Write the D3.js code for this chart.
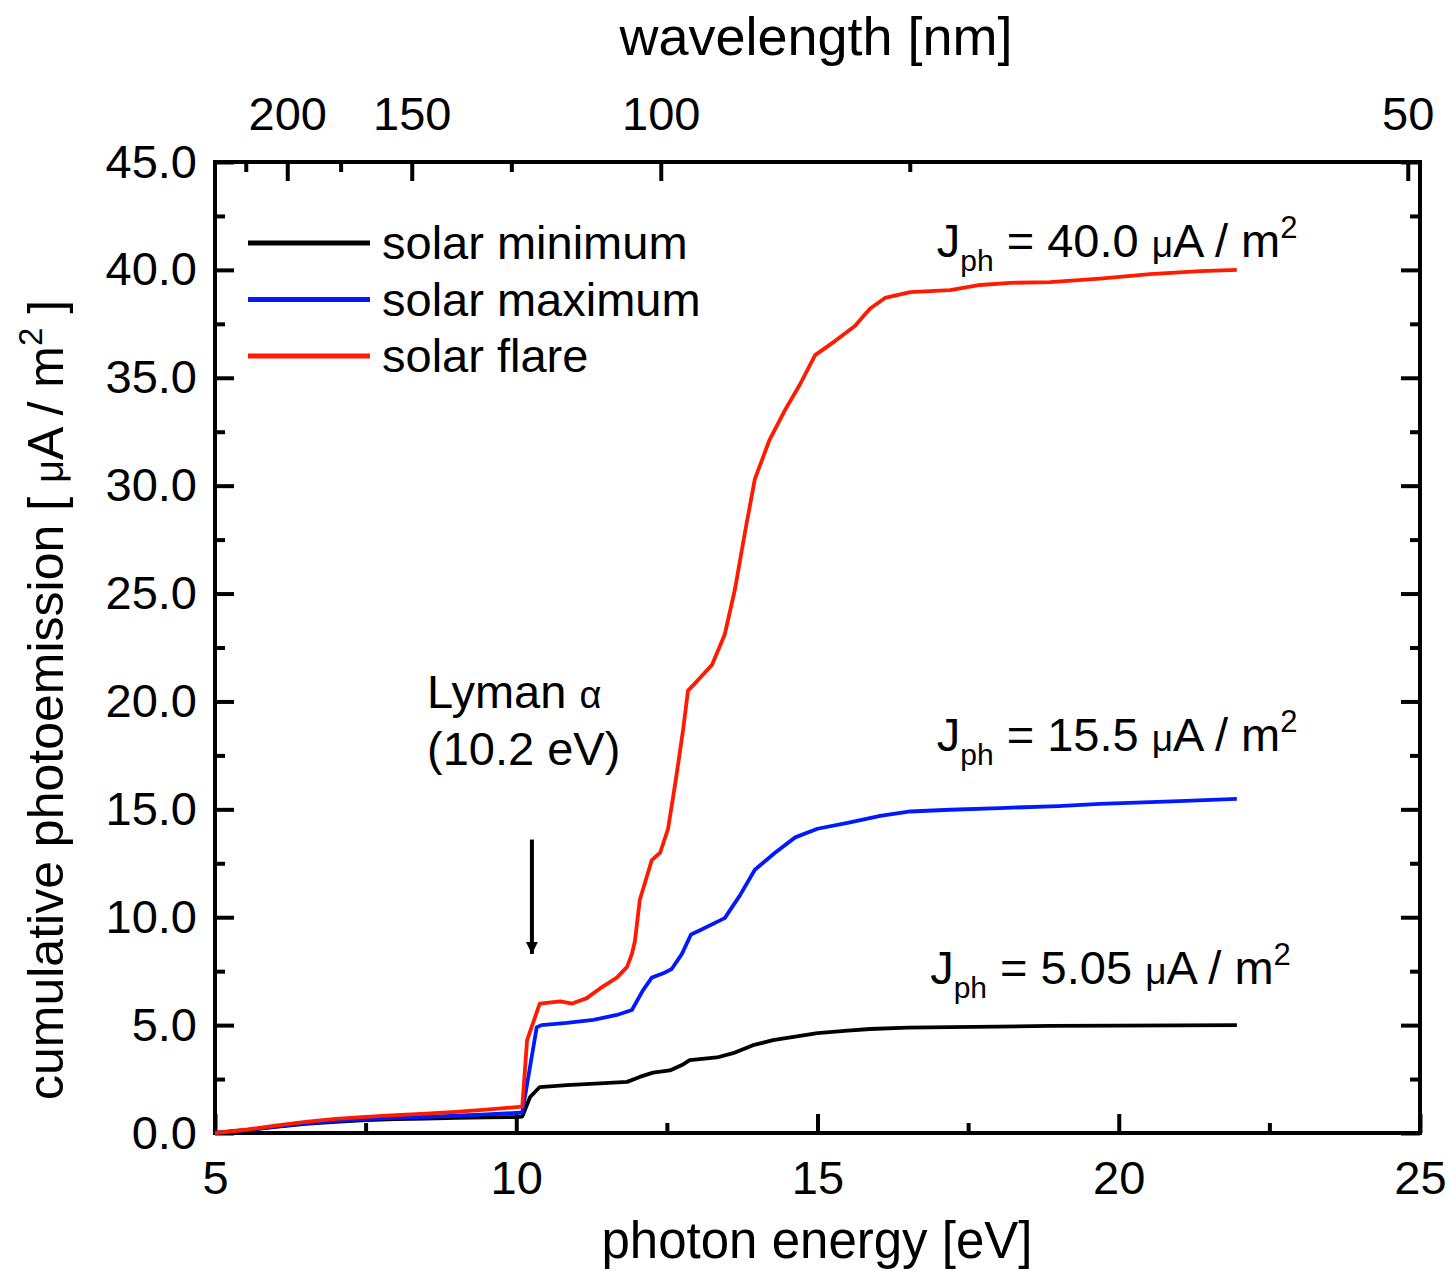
<!DOCTYPE html>
<head>
  <meta charset="utf-8">
  <title>Cumulative photoemission</title>
  <script src="https://cdn.jsdelivr.net/npm/d3@7"></script>
  <style>
    body { margin: 0; background: #fff; }
    text { font-family: "Liberation Sans", Arial, sans-serif; fill: #000; }
  </style>
</head>
<body>
<div id="chart"></div>
<script>
// photon energy [eV] and cumulative photoemission [uA/m2]
var minE  = [5, 5.5, 6, 6.5, 7, 7.5, 8, 8.5, 9, 9.5, 10, 10.1, 10.23, 10.39, 10.84, 11.39, 11.84, 12.05, 12.27, 12.55, 12.75, 12.88, 13.33, 13.6, 13.93, 14.26, 14.71, 15, 15.5, 15.87, 16.5, 17.2, 18, 18.86, 20, 21, 21.96];
var minJ  = [0, 0.12, 0.28, 0.42, 0.52, 0.6, 0.64, 0.67, 0.7, 0.72, 0.74, 0.76, 1.67, 2.13, 2.22, 2.3, 2.37, 2.6, 2.8, 2.9, 3.15, 3.38, 3.5, 3.7, 4.07, 4.3, 4.5, 4.63, 4.74, 4.82, 4.88, 4.91, 4.93, 4.96, 4.98, 4.99, 5.0];

var maxE  = [5, 5.5, 6, 6.5, 7, 7.5, 8, 8.5, 9, 9.5, 10, 10.1, 10.34, 10.42, 10.84, 11.28, 11.67, 11.92, 12.1, 12.25, 12.44, 12.58, 12.75, 12.9, 13.05, 13.46, 13.71, 13.96, 14.3, 14.63, 15, 15.54, 16.04, 16.54, 17.2, 18.03, 19, 19.69, 21, 21.96];
var maxJ  = [0, 0.13, 0.3, 0.45, 0.56, 0.64, 0.7, 0.75, 0.8, 0.86, 0.93, 0.95, 4.9, 5.0, 5.1, 5.24, 5.47, 5.7, 6.6, 7.2, 7.4, 7.6, 8.3, 9.2, 9.4, 9.96, 11.0, 12.2, 13.0, 13.7, 14.1, 14.4, 14.7, 14.9, 14.98, 15.06, 15.15, 15.25, 15.38, 15.48];

var flareE = [5, 5.5, 6, 6.5, 7, 7.5, 8, 8.5, 9, 9.5, 10, 10.1, 10.18, 10.39, 10.73, 10.93, 11.17, 11.39, 11.67, 11.84, 11.92, 11.97, 12.05, 12.25, 12.39, 12.52, 12.65, 12.77, 12.85, 12.97, 13.25, 13.46, 13.63, 13.8, 13.96, 14.2, 14.46, 14.71, 14.96, 15.29, 15.62, 15.87, 16.12, 16.54, 17.2, 17.7, 18.2, 18.86, 19.69, 20.52, 21.35, 21.96];
var flareJ = [0, 0.15, 0.34, 0.52, 0.65, 0.75, 0.83, 0.9, 0.98, 1.08, 1.2, 1.22, 4.3, 6.0, 6.1, 6.0, 6.25, 6.7, 7.2, 7.7, 8.3, 8.9, 10.8, 12.65, 13.0, 14.1, 16.4, 18.7, 20.5, 20.85, 21.7, 23.1, 25.2, 27.9, 30.3, 32.1, 33.5, 34.7, 36.05, 36.7, 37.4, 38.2, 38.7, 38.97, 39.06, 39.3, 39.4, 39.43, 39.6, 39.8, 39.94, 40.0];

var seriesNames  = ["solar minimum", "solar maximum", "solar flare"];
var seriesColors = ["#000000", "#0019ff", "#ff1a00"];
var totals = ["40.0", "15.5", "5.05"];

var yTicks = [0, 5, 10, 15, 20, 25, 30, 35, 40, 45];
var yMinor = [2.5, 7.5, 12.5, 17.5, 22.5, 27.5, 32.5, 37.5, 42.5];
var xTicks = [5, 10, 15, 20, 25];
var xMinor = [7.5, 12.5, 17.5, 22.5];
var nmTicks = [200, 150, 100, 50];
var nmMinor = [225, 175, 125, 75];
var lymanAlpha = 10.2;

var W = 1449, H = 1271;
var svg = d3.select("#chart").append("svg")
  .attr("width", W).attr("height", H);

var x = d3.scaleLinear().domain([5, 25]).range([215, 1420]);
var y = d3.scaleLinear().domain([0, 45]).range([1133, 162]);
// wavelength -> energy: E = hc / lambda
var nmToEV = function(nm) { return 1239.84 / nm; };

var FS = 47;

function styleAxis(g) {
  g.select(".domain").remove();
  g.selectAll("line").attr("stroke", "#000").attr("stroke-width", 4);
  g.selectAll("text").attr("font-size", FS).attr("fill", "#000")
    .attr("font-family", '"Liberation Sans", Arial, sans-serif');
}

// bottom axis
svg.append("g").attr("transform", "translate(0,1133)")
  .call(d3.axisBottom(x).tickValues(xTicks).tickSize(-19).tickPadding(28).tickFormat(d3.format("d")))
  .call(styleAxis);
svg.append("g").attr("transform", "translate(0,1133)")
  .call(d3.axisBottom(x).tickValues(xMinor).tickSize(-10).tickFormat(""))
  .call(styleAxis);

// left axis
svg.append("g").attr("transform", "translate(215,0)")
  .call(d3.axisLeft(y).tickValues(yTicks).tickSize(-19).tickPadding(18).tickFormat(d3.format(".1f")))
  .call(styleAxis);
svg.append("g").attr("transform", "translate(215,0)")
  .call(d3.axisLeft(y).tickValues(yMinor).tickSize(-10).tickFormat(""))
  .call(styleAxis);

// right axis
svg.append("g").attr("transform", "translate(1420,0)")
  .call(d3.axisRight(y).tickValues(yTicks).tickSize(-19).tickFormat(""))
  .call(styleAxis);
svg.append("g").attr("transform", "translate(1420,0)")
  .call(d3.axisRight(y).tickValues(yMinor).tickSize(-10).tickFormat(""))
  .call(styleAxis);

// top axis: wavelength, placed on the energy scale
svg.append("g").attr("transform", "translate(0,162)")
  .call(d3.axisTop(x).tickValues(nmTicks.map(nmToEV)).tickSize(-19).tickPadding(32)
    .tickFormat(function(e) { return d3.format("d")(Math.round(1239.84 / e)); }))
  .call(styleAxis);
svg.append("g").attr("transform", "translate(0,162)")
  .call(d3.axisTop(x).tickValues(nmMinor.map(nmToEV)).tickSize(-10).tickFormat(""))
  .call(styleAxis);

// frame
svg.append("rect")
  .attr("x", 215).attr("y", 162)
  .attr("width", 1420 - 215).attr("height", 1133 - 162)
  .attr("fill", "none").attr("stroke", "#000").attr("stroke-width", 4);

// curves
var line = d3.line().x(function(d) { return x(d[0]); }).y(function(d) { return y(d[1]); });
var series = [d3.zip(minE, minJ), d3.zip(maxE, maxJ), d3.zip(flareE, flareJ)];
svg.append("g").selectAll("path")
  .data(series)
  .enter().append("path")
    .attr("d", line)
    .attr("fill", "none")
    .attr("stroke", function(d, i) { return seriesColors[i]; })
    .attr("stroke-width", 3.8)
    .attr("stroke-linejoin", "round");

// legend
var leg = svg.append("g");
seriesNames.forEach(function(name, i) {
  var ly = 243 + i * 56.5;
  leg.append("line").attr("x1", 248).attr("x2", 370).attr("y1", ly).attr("y2", ly)
    .attr("stroke", seriesColors[i]).attr("stroke-width", 5);
  leg.append("text").attr("x", 382).attr("y", ly + 16).attr("font-size", FS).text(name);
});

// J_ph labels
function jLabel(xp, yp, val) {
  var t = svg.append("text").attr("x", xp).attr("y", yp).attr("font-size", 47);
  t.append("tspan").text("J");
  t.append("tspan").attr("font-size", 30).attr("dy", 14).text("ph");
  t.append("tspan").attr("dy", -14).text(" = " + val + " ");
  t.append("tspan").attr("font-size", 37).text("\u03bc");
  t.append("tspan").text("A / m");
  t.append("tspan").attr("font-size", 31).attr("dy", -19).text("2");
}
jLabel(x(16.98), y(40.0) - 13, totals[0]);
jLabel(x(16.98), y(15.5) - 48, totals[1]);
jLabel(x(16.87), y(5.05) - 40, totals[2]);

// Lyman alpha annotation
var lt = svg.append("text").attr("x", 427).attr("y", 708).attr("font-size", FS);
lt.append("tspan").text("Lyman ");
lt.append("tspan").attr("font-size", 38).text("\u03b1");
svg.append("text").attr("x", 427).attr("y", 765).attr("font-size", FS).text("(" + lymanAlpha + " eV)");

svg.append("defs").append("marker")
  .attr("id", "arrow").attr("viewBox", "0 0 10 10")
  .attr("refX", 10).attr("refY", 5)
  .attr("markerWidth", 3).attr("markerHeight", 4)
  .attr("markerUnits", "strokeWidth")
  .attr("orient", "auto")
  .append("path").attr("d", "M0,0 L10,5 L0,10 z").attr("fill", "#000");
svg.append("line")
  .attr("x1", x(lymanAlpha + 0.06)).attr("x2", x(lymanAlpha + 0.06))
  .attr("y1", y(13.6)).attr("y2", y(8.3))
  .attr("stroke", "#000").attr("stroke-width", 4)
  .attr("marker-end", "url(#arrow)");

// axis titles
svg.append("text").attr("x", 817).attr("y", 1258).attr("text-anchor", "middle")
  .attr("font-size", 51).text("photon energy [eV]");
svg.append("text").attr("x", 816).attr("y", 55).attr("text-anchor", "middle")
  .attr("font-size", 54).text("wavelength [nm]");

var yt = svg.append("text")
  .attr("transform", "translate(63,700) rotate(-90)")
  .attr("text-anchor", "middle").attr("font-size", 50);
yt.append("tspan").text("cumulative photoemission [ ");
yt.append("tspan").attr("font-size", 40).text("\u03bc");
yt.append("tspan").text("A / m");
yt.append("tspan").attr("font-size", 33).attr("dy", -21).text("2");
yt.append("tspan").attr("dy", 21).text(" ]");
</script>
</body>
